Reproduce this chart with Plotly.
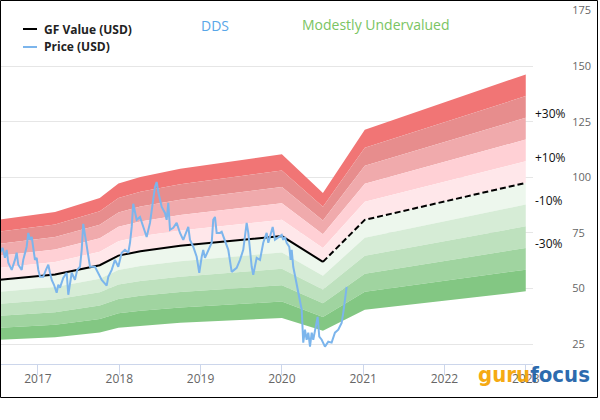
import plotly.graph_objects as go

# ---------------- data ----------------
price_year = [2016.533, 2016.566, 2016.594, 2016.615, 2016.635, 2016.677, 2016.717, 2016.738, 2016.758, 2016.800,
              2016.819, 2016.861, 2016.881, 2016.902, 2016.923, 2016.942, 2016.963, 2016.984, 2017.004, 2017.025,
              2017.065, 2017.098, 2017.127, 2017.148, 2017.169, 2017.197, 2017.230, 2017.250, 2017.271, 2017.311,
              2017.353, 2017.373, 2017.394, 2017.415, 2017.455, 2017.483, 2017.517, 2017.538, 2017.557, 2017.578,
              2017.619, 2017.640, 2017.701, 2017.742, 2017.784, 2017.845, 2017.865, 2017.907, 2017.947, 2017.988,
              2018.030, 2018.070, 2018.111, 2018.132, 2018.153, 2018.172, 2018.214, 2018.255, 2018.295, 2018.337,
              2018.378, 2018.418, 2018.439, 2018.460, 2018.480, 2018.522, 2018.562, 2018.583, 2018.603, 2018.624,
              2018.664, 2018.706, 2018.747, 2018.787, 2018.829, 2018.849, 2018.870, 2018.910, 2018.952, 2018.984,
              2019.014, 2019.033, 2019.054, 2019.095, 2019.137, 2019.156, 2019.177, 2019.198, 2019.239, 2019.260,
              2019.300, 2019.341, 2019.383, 2019.444, 2019.485, 2019.525, 2019.567, 2019.587, 2019.629, 2019.648,
              2019.690, 2019.731, 2019.771, 2019.813, 2019.833, 2019.854, 2019.887, 2019.915, 2019.956, 2019.998,
              2020.017, 2020.038, 2020.059, 2020.091, 2020.108, 2020.121, 2020.140, 2020.182, 2020.223, 2020.244,
              2020.263, 2020.284, 2020.305, 2020.325, 2020.346, 2020.367, 2020.386, 2020.416, 2020.440, 2020.460,
              2020.490, 2020.530, 2020.571, 2020.612, 2020.653, 2020.694, 2020.735, 2020.755, 2020.776, 2020.797]
price_usd = [66.1, 68.3, 63.8, 67.4, 61.6, 58.4, 62.9, 66.1, 60.7, 58.4,
             62.9, 68.8, 75.0, 71.9, 73.2, 67.4, 62.9, 63.8, 58.4, 55.3,
             55.3, 58.4, 60.7, 57.1, 53.9, 51.7, 48.1, 51.7, 50.4, 54.8,
             57.1, 47.2, 53.0, 57.1, 53.9, 58.4, 59.8, 67.4, 79.1, 74.1,
             64.3, 59.8, 59.8, 57.1, 53.9, 51.3, 55.3, 58.4, 62.9, 59.8,
             66.1, 67.4, 66.1, 70.6, 77.7, 88.1, 80.9, 82.2, 77.3, 73.2,
             79.5, 91.2, 95.7, 97.9, 93.4, 86.7, 84.0, 80.9, 88.5, 76.4,
             77.3, 79.5, 75.0, 71.9, 76.4, 77.7, 71.9, 68.8, 64.3, 57.1,
             64.3, 67.4, 63.8, 67.4, 70.6, 80.9, 82.2, 75.0, 75.0, 75.5,
             71.9, 67.4, 57.5, 59.3, 62.9, 67.4, 79.5, 75.0, 59.8, 56.2,
             63.8, 62.9, 70.6, 75.0, 70.6, 73.2, 77.7, 71.9, 73.2, 74.1,
             71.9, 73.2, 70.6, 68.8, 62.9, 67.4, 59.8, 52.6, 45.0, 40.5,
             25.7, 31.5, 27.0, 30.2, 23.9, 30.2, 27.0, 32.9, 37.3, 28.4,
             27.0, 23.9, 26.1, 25.7, 30.2, 31.5, 34.6, 39.1, 45.0, 50.8]

gf_year = [2016.533, 2017.21, 2017.76, 2017.99, 2018.26, 2018.75, 2020.0, 2020.505, 2021.02, 2023.0]
gf_usd = [54.0, 56.3, 60.5, 64.8, 66.8, 69.2, 73.6, 62.0, 80.9, 97.5]
gf_last_actual = 7  # index where the estimate (dashed) part begins

band_factors = [1.5, 1.4, 1.3, 1.2, 1.1, 1.0, 0.9, 0.8, 0.7, 0.6, 0.5]
band_colors = ["rgb(241,117,117)", "rgb(231,141,141)", "rgb(240,170,172)", "rgb(255,208,213)",
               "rgb(255,231,234)", "rgb(237,247,237)", "rgb(214,236,214)", "rgb(190,225,190)",
               "rgb(160,212,160)", "rgb(131,199,131)"]

pct_labels = ["+30%", "+10%", "-10%", "-30%"]
pct_factors = [1.3, 1.1, 0.9, 0.7]

year_ticks = [2017, 2018, 2019, 2020, 2021, 2022, 2023]
year_labels = ["2017", "2018", "2019", "2020", "2021", "2022", "2023"]
value_ticks = [25, 50, 75, 100, 125, 150, 175]

FONT = "Open Sans, Noto Sans, sans-serif"

fig = go.Figure()

# valuation bands
for i, col in enumerate(band_colors):
    hi, lo = band_factors[i], band_factors[i + 1]
    xs = gf_year + gf_year[::-1]
    ys = [hi * v for v in gf_usd] + [lo * v for v in gf_usd[::-1]]
    fig.add_trace(go.Scatter(x=xs, y=ys, fill="toself", fillcolor=col, mode="lines",
                             line=dict(width=0), hoverinfo="skip", showlegend=False))

# GF value line
fig.add_trace(go.Scatter(x=gf_year[:gf_last_actual + 1], y=gf_usd[:gf_last_actual + 1], mode="lines",
                         line=dict(color="black", width=2), name="GF Value (USD)", showlegend=False))
fig.add_trace(go.Scatter(x=gf_year[gf_last_actual:], y=gf_usd[gf_last_actual:], mode="lines",
                         line=dict(color="black", width=2, dash="6px,3px"), showlegend=False))

# price line
fig.add_trace(go.Scatter(x=price_year, y=price_usd, mode="lines",
                         line=dict(color="#7cb5ec", width=2), name="Price (USD)", showlegend=False))

W, H = 600, 420
ML, MR, MT, MB = 0, 67, 10, 56
PW, PH = W - ML - MR, H - MT - MB


def px(xp):
    return (xp - ML) / PW


def py(yp):
    return 1 - (yp - MT) / PH


def note(text, x, y, size, color, xanchor="center", family=FONT, **kw):
    return dict(text=text, x=x, y=y, xref="paper", yref="paper", xanchor=xanchor, yanchor="middle",
                showarrow=False, font=dict(family=family, size=size, color=color), **kw)


annotations = [
    note("DDS", px(214.5), py(25), 14, "rgb(88,166,232)"),
    note("Modestly Undervalued", px(375.5), py(24.5), 14, "rgb(122,196,98)"),
    note("<b>GF Value (USD)</b>", px(42), py(29), 12, "#222", xanchor="left"),
    note("<b>Price (USD)</b>", px(42), py(47), 12, "#222", xanchor="left"),
]
for lab, f in zip(pct_labels, pct_factors):
    annotations.append(dict(text=lab, x=px(533), y=gf_usd[-1] * f, xref="paper", yref="y",
                            xanchor="left", yanchor="middle", yshift=4, showarrow=False,
                            font=dict(family=FONT, size=12, color="#111")))
annotations.append(note("<b><span style='color:#f5a300'>guru</span><span style='color:#1b5fa8'>focus</span></b>",
                        px(534), py(374), 22, "#1b5fa8",
                        family="DejaVu Sans Condensed, DejaVu Sans, sans-serif", opacity=0.92))

shapes = [
    dict(type="line", xref="paper", yref="paper", x0=px(23), x1=px(37), y0=py(29), y1=py(29),
         line=dict(color="black", width=2)),
    dict(type="line", xref="paper", yref="paper", x0=px(23), x1=px(37), y0=py(47), y1=py(47),
         line=dict(color="#7cb5ec", width=2)),
    dict(type="rect", xref="paper", yref="paper", x0=px(0.5), x1=px(597.5), y0=py(397.5), y1=py(0.5),
         line=dict(color="black", width=1), fillcolor="rgba(0,0,0,0)", layer="above"),
]

fig.update_layout(
    width=W, height=H, autosize=False,
    margin=dict(l=ML, r=MR, t=MT, b=MB, pad=0),
    paper_bgcolor="white", plot_bgcolor="white",
    showlegend=False,
    font=dict(family=FONT),
    annotations=annotations, shapes=shapes,
    xaxis=dict(range=[2016.533, 2023.089], tickvals=year_ticks, ticktext=year_labels,
               showgrid=False, zeroline=False, showline=True, linecolor="#ccd6eb", linewidth=1,
               ticks="outside", ticklen=10, tickcolor="#ccd6eb", ticklabelstandoff=-6,
               tickfont=dict(family=FONT, size=12, color="#666")),
    yaxis=dict(range=[16.1, 175.2], tickvals=value_ticks, side="right",
               showgrid=True, gridcolor="#e6e6e6", zeroline=False, showline=False,
               ticks="outside", ticklen=36, tickcolor="rgba(0,0,0,0)",
               tickfont=dict(family=FONT, size=11, color="#666")),
)

fig.write_html("out.html", config={"displayModeBar": False},
               post_script="document.body.style.margin='0';")
